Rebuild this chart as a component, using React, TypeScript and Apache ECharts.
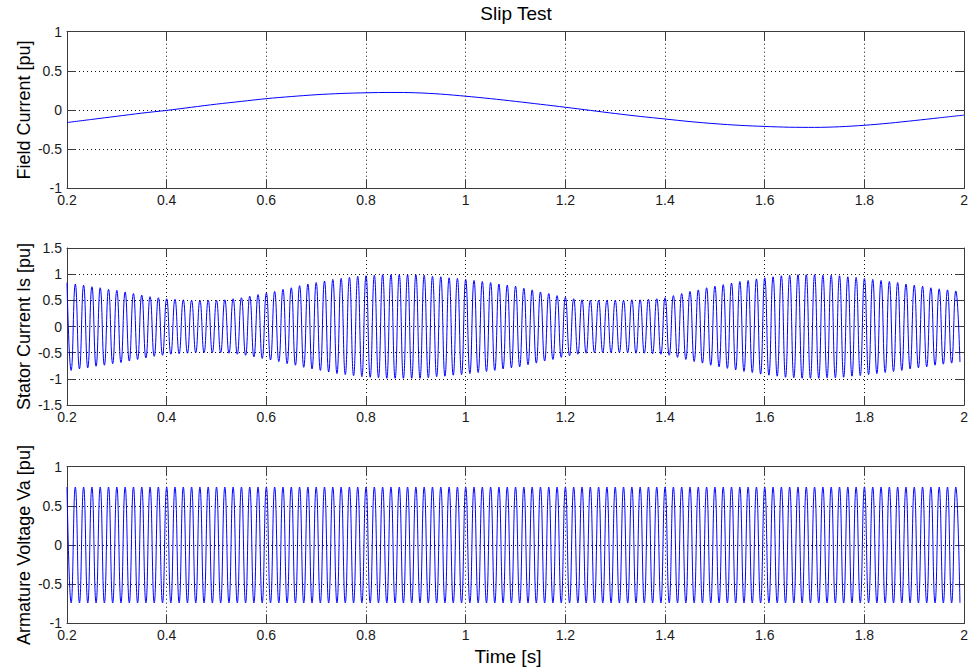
import React, { useEffect, useRef } from "react";
import * as echarts from "echarts";

// Time axis shared by all three panels
const X_MIN = 0.2;
const X_MAX = 2;
const X_STEP = 0.2;

// Field current, sampled every 0.05 s
const fieldTime = [
  0.2, 0.25, 0.3, 0.35, 0.4, 0.45, 0.5, 0.55, 0.6, 0.65, 0.7, 0.75, 0.8, 0.85, 0.9, 0.95, 1.0, 1.05, 1.1,
  1.15, 1.2, 1.25, 1.3, 1.35, 1.4, 1.45, 1.5, 1.55, 1.6, 1.65, 1.7, 1.75, 1.8, 1.85, 1.9, 1.95, 2.0,
];
const fieldCurrent = [
  -0.16, -0.12, -0.08, -0.04, -0.005, 0.035, 0.075, 0.11, 0.145, 0.172, 0.195, 0.211, 0.22, 0.224, 0.22,
  0.203, 0.176, 0.145, 0.11, 0.073, 0.035, -0.005, -0.045, -0.082, -0.115, -0.148, -0.175, -0.196, -0.21,
  -0.22, -0.222, -0.214, -0.195, -0.168, -0.135, -0.1, -0.065,
];

// 60 Hz waveforms: one peak magnitude per cycle (12 cycles = 0.2 s per row),
// drawn as alternating positive / negative half-cycle peaks
const WAVE_START = 0.2;
const HALF_CYCLE = 1 / 120;

const statorPeaks = [
  0.84, 0.81, 0.79, 0.76, 0.74, 0.71, 0.69, 0.66, 0.63, 0.60, 0.57, 0.55,
  0.53, 0.52, 0.51, 0.50, 0.50, 0.50, 0.50, 0.51, 0.53, 0.55, 0.58, 0.61,
  0.64, 0.67, 0.71, 0.74, 0.78, 0.81, 0.84, 0.87, 0.90, 0.92, 0.94, 0.96,
  0.97, 0.98, 0.99, 0.99, 0.99, 0.99, 0.99, 0.98, 0.96, 0.95, 0.93, 0.92,
  0.90, 0.88, 0.86, 0.84, 0.81, 0.79, 0.77, 0.73, 0.70, 0.66, 0.63, 0.59,
  0.56, 0.53, 0.51, 0.50, 0.50, 0.50, 0.50, 0.50, 0.51, 0.51, 0.52, 0.53,
  0.55, 0.59, 0.63, 0.67, 0.70, 0.74, 0.77, 0.80, 0.83, 0.86, 0.88, 0.91,
  0.93, 0.95, 0.97, 0.98, 0.99, 0.99, 0.99, 0.98, 0.98, 0.97, 0.95, 0.94,
  0.92, 0.90, 0.88, 0.86, 0.84, 0.81, 0.79, 0.77, 0.74, 0.72, 0.70, 0.68,
];

const armaturePeaks = [
  0.74, 0.74, 0.74, 0.74, 0.74, 0.74, 0.74, 0.74, 0.74, 0.74, 0.74, 0.74,
  0.74, 0.74, 0.74, 0.74, 0.74, 0.74, 0.74, 0.74, 0.74, 0.74, 0.74, 0.74,
  0.74, 0.74, 0.74, 0.74, 0.74, 0.74, 0.74, 0.74, 0.74, 0.74, 0.74, 0.74,
  0.74, 0.74, 0.74, 0.74, 0.74, 0.74, 0.74, 0.74, 0.74, 0.74, 0.74, 0.74,
  0.74, 0.74, 0.74, 0.74, 0.74, 0.74, 0.74, 0.74, 0.74, 0.74, 0.74, 0.74,
  0.74, 0.74, 0.74, 0.74, 0.74, 0.74, 0.74, 0.74, 0.74, 0.74, 0.74, 0.74,
  0.74, 0.74, 0.74, 0.74, 0.74, 0.74, 0.74, 0.74, 0.74, 0.74, 0.74, 0.74,
  0.74, 0.74, 0.74, 0.74, 0.74, 0.74, 0.74, 0.74, 0.74, 0.74, 0.74, 0.74,
  0.74, 0.74, 0.74, 0.74, 0.74, 0.74, 0.74, 0.74, 0.74, 0.74, 0.74, 0.74,
];

const panelTitles = ["Field Current [pu]", "Stator Current Is [pu]", "Armature Voltage Va [pu]"];
const yRanges = [
  [-1, 1],
  [-1.5, 1.5],
  [-1, 1],
];
const Y_STEP = 0.5;

const FONT = '"Liberation Sans", Arial, Helvetica, sans-serif';
const LINE_BLUE = "#0000ff";
const FRAME = "#3c3c3c";

// Turn per-cycle peak magnitudes into [time, value] pairs at each half cycle
function peaksToWave(peaks: number[]): number[][] {
  const pts: number[][] = [];
  peaks.forEach((p, k) => {
    pts.push([WAVE_START + 2 * k * HALF_CYCLE, p]);
    pts.push([WAVE_START + (2 * k + 1) * HALF_CYCLE, -p]);
  });
  return pts;
}

const GRIDS = [
  { left: 67, top: 31.7, width: 898, height: 156.6 },
  { left: 67, top: 248, width: 898, height: 157 },
  { left: 67, top: 466.7, width: 898, height: 156.6 },
];

export default function App() {
  const ref = useRef<HTMLDivElement>(null);

  useEffect(() => {
    if (!ref.current) return;
    const chart = echarts.init(ref.current, null, { renderer: "svg" });

    const tick = { show: true, inside: true, length: 9, lineStyle: { color: FRAME, width: 1 } };
    const line = { show: true, onZero: false, lineStyle: { color: FRAME, width: 1 } };
    const grid = { show: true, lineStyle: { color: "#111", type: [1, 3], width: 1 } };
    const label = { color: "#1a1a1a", fontSize: 14, fontFamily: FONT };

    const xAxes: any[] = [];
    const yAxes: any[] = [];
    GRIDS.forEach((_, i) => {
      xAxes.push({
        type: "value",
        gridIndex: i,
        position: "bottom",
        min: X_MIN,
        max: X_MAX,
        interval: X_STEP,
        axisLine: line,
        axisTick: tick,
        axisLabel: { ...label, margin: 5 },
        splitLine: grid,
      });
      yAxes.push({
        type: "value",
        gridIndex: i,
        position: "left",
        min: yRanges[i][0],
        max: yRanges[i][1],
        interval: Y_STEP,
        axisLine: line,
        axisTick: tick,
        axisLabel: { ...label, margin: 5 },
        splitLine: grid,
      });
    });
    GRIDS.forEach((_, i) => {
      xAxes.push({
        type: "value",
        gridIndex: i,
        position: "top",
        min: X_MIN,
        max: X_MAX,
        interval: X_STEP,
        axisLine: line,
        axisTick: tick,
        axisLabel: { show: false },
        splitLine: { show: false },
      });
      yAxes.push({
        type: "value",
        gridIndex: i,
        position: "right",
        min: yRanges[i][0],
        max: yRanges[i][1],
        interval: Y_STEP,
        axisLine: line,
        axisTick: tick,
        axisLabel: { show: false },
        splitLine: { show: false },
      });
    });

    const seriesBase = {
      type: "line",
      showSymbol: false,
      symbol: "none",
      lineStyle: { color: LINE_BLUE, width: 1 },
      itemStyle: { color: LINE_BLUE },
      emphasis: { disabled: true },
    };

    const textStyle = (text: string, size: number) => ({
      text,
      fill: "#000",
      fontSize: size,
      fontFamily: FONT,
      align: "center",
      verticalAlign: "middle",
      textAlign: "center",
      textVerticalAlign: "middle",
    });

    const plotCenterX = GRIDS[0].left + GRIDS[0].width / 2;

    chart.setOption({
      animation: false,
      backgroundColor: "#ffffff",
      grid: GRIDS,
      xAxis: xAxes,
      yAxis: yAxes,
      series: [
        {
          ...seriesBase,
          xAxisIndex: 0,
          yAxisIndex: 0,
          smooth: 0.3,
          data: fieldTime.map((t, i) => [t, fieldCurrent[i]]),
        },
        {
          ...seriesBase,
          xAxisIndex: 1,
          yAxisIndex: 1,
          smooth: true,
          data: peaksToWave(statorPeaks),
        },
        {
          ...seriesBase,
          xAxisIndex: 2,
          yAxisIndex: 2,
          smooth: true,
          data: peaksToWave(armaturePeaks),
        },
      ],
      graphic: [
        { type: "text", x: plotCenterX, y: 13, style: textStyle("Slip Test", 19) },
        { type: "text", x: plotCenterX - 8, y: 656, style: textStyle("Time [s]", 19) },
        ...panelTitles.map((t, i) => ({
          type: "text",
          x: 24,
          y: GRIDS[i].top + GRIDS[i].height / 2,
          rotation: Math.PI / 2,
          style: textStyle(t, 18),
        })),
      ],
    });

    return () => chart.dispose();
  }, []);

  return (
    <div
      ref={ref}
      style={{ position: "fixed", left: 0, top: 0, width: 971, height: 670, background: "#fff" }}
    />
  );
}
